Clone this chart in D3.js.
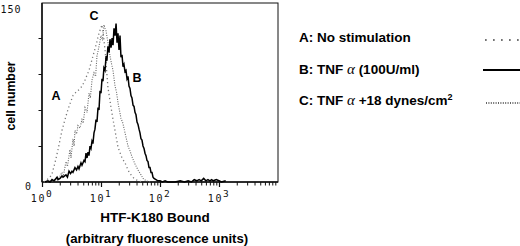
<!DOCTYPE html>
<html>
<head>
<meta charset="utf-8">
<script src="https://cdn.jsdelivr.net/npm/d3@7"></script>
<style>
  body { margin: 0; background: #fff; }
  svg { display: block; }
  text { font-family: "Liberation Sans", Arial, sans-serif; }
</style>
</head>
<body>
<div id="chart"></div>
<script>
// Histogram data: fluorescence (log axis) and cell count
const aFluor = [1.08, 1.22, 1.37, 1.48, 1.66, 1.87, 2.18, 2.55, 2.87, 3.35, 3.8, 4.24, 4.8, 5.36, 6.26, 7.04, 7.6, 8.23, 9.25, 10.4, 11.0, 11.7, 13.1, 14.8, 16.0, 18.0, 19.4, 22.7, 25.5, 28.7, 31.0, 36.3, 42.4, 49.5];
const aCount = [0, 2, 4, 7, 16, 27, 43, 55, 63, 72, 75, 77, 80, 85, 93, 102, 108, 114, 124, 131, 122, 110, 79, 62, 52, 38, 29, 20, 16, 10, 7, 3, 1, 0];

const bFluor = [1.12, 1.26, 1.37, 1.48, 1.6, 1.8, 1.87, 2.02, 2.18, 2.27, 2.55, 2.7, 2.87, 3.05, 3.22, 3.35, 3.62, 3.85, 4.07, 4.24, 4.58, 4.76, 5.15, 5.36, 5.57, 5.8, 6.02, 6.26, 6.51, 6.77, 7.04, 7.3, 7.61, 7.9, 8.23, 8.55, 8.9, 9.25, 9.62, 10.0, 10.4, 10.8, 11.2, 11.7, 12.2, 12.6, 13.1, 13.7, 14.2, 14.8, 15.4, 16.0, 16.6, 17.3, 18.0, 18.7, 19.4, 20.2, 21.0, 21.8, 22.7, 23.6, 24.5, 25.5, 26.5, 27.6, 28.7, 29.8, 31.0, 32.2, 33.5, 34.9, 36.3, 37.7, 39.2, 40.8, 42.4, 44.1, 45.8, 47.6, 49.5, 51.5, 53.6, 55.7, 57.9, 60.2, 62.6, 65.1, 67.7, 70.4, 73.2, 76.1, 79.1, 85.5, 92, 100, 110, 122, 135, 150, 180, 220, 260, 300, 340, 380, 420, 460, 500, 550, 600, 650, 700, 750, 800, 900, 1000, 1100, 1300];
const bCount = [0, 1, 0, 2, 1, 4, 2, 3, 5, 4, 6, 4, 9, 7, 9, 8, 12, 10, 13, 11, 16, 14, 18, 17, 24, 20, 25, 22, 30, 28, 34, 32, 41, 44, 52, 50, 62, 60, 76, 74, 86, 84, 95, 93, 105, 101, 113, 108, 119, 112, 120, 114, 128, 122, 132, 116, 124, 110, 122, 104, 106, 96, 98, 92, 93, 86, 88, 80, 78, 72, 70, 64, 63, 58, 56, 50, 48, 44, 41, 36, 35, 30, 28, 24, 22, 18, 17, 12, 12, 8, 8, 4, 3, 2, 1, 1, 0, 1, 0, 0, 0, 1, 0, 1, 0, 2, 1, 2, 1, 3, 1, 2, 1, 2, 1, 2, 1, 0, 1];

const cFluor = [1.12, 1.48, 1.87, 2.18, 2.3, 2.55, 2.7, 2.98, 3.1, 3.35, 3.5, 3.62, 3.85, 4.07, 4.4, 4.76, 5.0, 5.36, 5.8, 6.26, 6.6, 7.04, 7.61, 8.1, 8.55, 9.25, 10.0, 10.6, 11.24, 11.7, 12.15, 13.14, 14.21, 15.0, 15.97, 17.28, 18.3, 19.42, 21.83, 23.5, 25.52, 28.69, 31.0, 33.53, 37.7, 42.37, 47.64, 51.51, 57.9, 67.68];
const cCount = [0, 1, 2, 8, 5, 17, 13, 27, 20, 36, 30, 43, 40, 47, 45, 52, 49, 62, 58, 74, 70, 85, 91, 88, 105, 113, 122, 118, 131, 128, 126, 116, 105, 99, 93, 80, 75, 66, 53, 49, 41, 30, 26, 21, 15, 10, 6, 3, 1, 0];

const curveLabels = ["A", "B", "C"];
const legendKeys = ["A: No stimulation", "B: TNF", "C: TNF"];
const xMajorTicks = [1, 10, 100, 1000];
const yTickValues = [0, 30, 60, 90, 120, 150];
const yTickLabels = ["0", "150"];

const W = 520, H = 246;
const svg = d3.select("#chart").append("svg")
    .attr("width", W)
    .attr("height", H);

// plot frame
const plotL = 42, plotR = 278, plotT = 3, plotB = 182;

const x = d3.scaleLog().domain([1, 10000]).range([plotL, plotR]);
const y = d3.scaleLinear().domain([0, 150]).range([plotB, plotT - 1]);

// minor + major ticks on the bottom axis
const minorTicks = [];
[1, 10, 100, 1000].forEach(d => {
    for (let k = 2; k <= 9; k++) minorTicks.push(d * k);
});

svg.append("g")
    .attr("transform", `translate(0,${plotB})`)
    .call(d3.axisBottom(x).tickValues(minorTicks).tickSize(3.5).tickFormat(""))
    .call(g => g.select(".domain").remove())
    .selectAll("line").attr("stroke", "#111");

svg.append("g")
    .attr("transform", `translate(0,${plotB})`)
    .call(d3.axisBottom(x).tickValues(xMajorTicks).tickSize(5).tickFormat(""))
    .call(g => g.select(".domain").remove())
    .selectAll("line").attr("stroke", "#111").attr("stroke-width", 1.2);

// y ticks, pointing outward
svg.append("g")
    .attr("transform", `translate(${plotL},0)`)
    .call(d3.axisLeft(y).tickValues(yTickValues.slice(1, 5)).tickSize(3.5).tickFormat(""))
    .call(g => g.select(".domain").remove())
    .selectAll("line").attr("stroke", "#111");

// frame
svg.append("rect")
    .attr("x", plotL).attr("y", plotT)
    .attr("width", plotR - plotL).attr("height", plotB - plotT)
    .attr("fill", "none")
    .attr("stroke", "#111")
    .attr("stroke-width", 1);
svg.append("line")
    .attr("x1", plotL).attr("x2", plotL)
    .attr("y1", plotT).attr("y2", plotB)
    .attr("stroke", "#111").attr("stroke-width", 1.5);
svg.append("line")
    .attr("x1", plotL).attr("x2", plotR)
    .attr("y1", plotB).attr("y2", plotB)
    .attr("stroke", "#111").attr("stroke-width", 1.4);

// tick labels in a dot-matrix like mono face
const mono = "'DejaVu Sans Mono', 'Liberation Mono', monospace";
xMajorTicks.forEach((v, i) => {
    const t = svg.append("text")
        .attr("x", x(v))
        .attr("y", 202)
        .attr("text-anchor", "middle")
        .style("font-family", mono)
        .style("font-size", "10px")
        .style("letter-spacing", "1.5px")
        .attr("fill", "#111");
    t.append("tspan").text("10");
    t.append("tspan").attr("dy", -5).style("font-size", "9.5px").text(String(i));
});

svg.append("text")
    .attr("x", 28).attr("y", 190)
    .attr("text-anchor", "middle")
    .style("font-family", mono).style("font-size", "10px")
    .attr("fill", "#111")
    .text(yTickLabels[0]);
svg.append("text")
    .attr("x", 11).attr("y", 13)
    .attr("text-anchor", "middle")
    .style("font-family", mono).style("font-size", "10px")
    .style("letter-spacing", "1px")
    .attr("fill", "#111")
    .text(yTickLabels[1]);

// histogram curves
const line = d3.line()
    .x(d => x(d[0]))
    .y(d => y(d[1]));

const zip = (a, b) => a.map((v, i) => [v, b[i]]);

svg.append("path")
    .datum(zip(aFluor, aCount))
    .attr("d", line)
    .attr("fill", "none")
    .attr("stroke", "#777")
    .attr("stroke-width", 1.3)
    .attr("stroke-dasharray", "1.2,2.8");

svg.append("path")
    .datum(zip(cFluor, cCount))
    .attr("d", line)
    .attr("fill", "none")
    .attr("stroke", "#666")
    .attr("stroke-width", 1.1)
    .attr("stroke-dasharray", "1,1.4");

svg.append("path")
    .datum(zip(bFluor, bCount))
    .attr("d", line)
    .attr("fill", "none")
    .attr("stroke", "#000")
    .attr("stroke-width", 1.5);

// curve letters
const letterPos = [[56, 100], [137, 82], [94, 20]];
curveLabels.forEach((c, i) => {
    svg.append("text")
        .attr("x", letterPos[i][0]).attr("y", letterPos[i][1])
        .attr("text-anchor", "middle")
        .style("font-size", "12.5px")
        .style("font-weight", "bold")
        .text(c);
});

// axis titles
svg.append("text")
    .attr("transform", "translate(14.5,96) rotate(-90)")
    .attr("text-anchor", "middle")
    .style("font-size", "12.3px")
    .style("font-weight", "bold")
    .text("cell number");

svg.append("text")
    .attr("x", 155).attr("y", 222)
    .attr("text-anchor", "middle")
    .style("font-size", "13.5px")
    .style("font-weight", "bold")
    .text("HTF-K180 Bound");

svg.append("text")
    .attr("x", 157).attr("y", 243)
    .attr("text-anchor", "middle")
    .style("font-size", "13.2px")
    .style("font-weight", "bold")
    .text("(arbitrary fluorescence units)");

// legend
const legendY = [42, 73.5, 105];
const legend = svg.append("g")
    .style("font-size", "13.5px")
    .style("font-weight", "bold");

legend.append("text").attr("x", 299).attr("y", legendY[0]).text(legendKeys[0]);

const lb = legend.append("text").attr("x", 299).attr("y", legendY[1]);
lb.append("tspan").text(legendKeys[1] + " ");
lb.append("tspan").style("font-family", "'Liberation Serif', serif")
    .style("font-weight", "normal").style("font-style", "italic")
    .style("font-size", "15px").text("α");
lb.append("tspan").text(" (100U/ml)");

const lc = legend.append("text").attr("x", 299).attr("y", legendY[2]);
lc.append("tspan").text(legendKeys[2] + " ");
lc.append("tspan").style("font-family", "'Liberation Serif', serif")
    .style("font-weight", "normal").style("font-style", "italic")
    .style("font-size", "15px").text("α");
lc.append("tspan").text(" +18 dynes/cm");
lc.append("tspan").attr("dy", -5).style("font-size", "9px").text("2");

// legend line samples
const samples = [
    { y: 40, stroke: "#444", w: 1.7, dash: "1.7,6.3", x1: 485 },
    { y: 70, stroke: "#000", w: 2, dash: null, x1: 483 },
    { y: 103, stroke: "#333", w: 1.3, dash: "1,1.4", x1: 486 }
];
samples.forEach(s => {
    svg.append("line")
        .attr("x1", s.x1).attr("x2", 520)
        .attr("y1", s.y).attr("y2", s.y)
        .attr("stroke", s.stroke)
        .attr("stroke-width", s.w)
        .attr("stroke-dasharray", s.dash);
});
</script>
</body>
</html>
